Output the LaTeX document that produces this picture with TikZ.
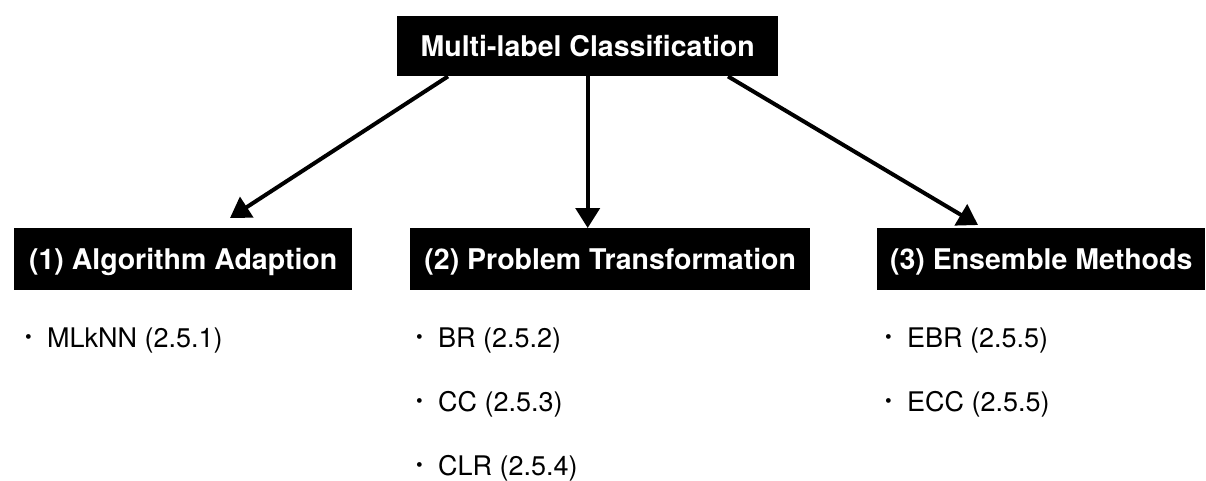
\documentclass[tikz,border=0pt]{standalone}
\usepackage{fontspec}
\setmainfont{TeX Gyre Heros}
\usetikzlibrary{arrows.meta,calc}

% small raised bullet used in front of each method
\newcommand\methodbul{\makebox[22pt][l]{\fontsize{19}{19}\selectfont\raisebox{4pt}{•}}}

\tikzset{
  header/.style={fill=black, text=white, inner sep=0pt, anchor=north west,
    font=\fontsize{28.5}{30}\selectfont\bfseries,
    text height=20.5pt, text depth=0pt, minimum height=62pt},
  method/.style={anchor=base west, inner sep=0pt,
    font=\fontsize{27}{30}\selectfont},
  link/.style={line width=4pt, -{Triangle[length=20pt,width=24pt]}}
}

\begin{document}
\begin{tikzpicture}[x=1pt,y=-1pt]
  \useasboundingbox (0,0) rectangle (1206,480);

  % root and the three families
  \node[header, minimum width=381pt, minimum height=60pt] (root) at (397,16) {Multi-label Classification};
  \node[header, minimum width=338pt] (alg) at (14,228) {(1) Algorithm Adaption};
  \node[header, minimum width=400pt] (prob) at (410,228) {(2) Problem Transformation};
  \node[header, minimum width=328pt] (ens) at (877,228) {(3) Ensemble Methods};

  % connectors
  \draw[link] ($(root.south west)+(51pt,0pt)$) -- ($(alg.north west)+(216pt,10pt)$);
  \draw[link] (root.south) -- (root.south |- prob.north);
  \draw[link] ($(root.south west)+(331pt,0pt)$) -- ($(ens.north west)+(101pt,3pt)$);

  % methods under each family
  \node[method] (mlknn) at (25,347) {\methodbul MLkNN (2.5.1)};
  \node[method] (br)  at (416,347) {\methodbul BR (2.5.2)};
  \node[method] (cc)  at (416,411) {\methodbul CC (2.5.3)};
  \node[method] (clr) at (416,475) {\methodbul CLR (2.5.4)};
  \node[method] (ebr) at (885,347) {\methodbul EBR (2.5.5)};
  \node[method] (ecc) at (885,411) {\methodbul ECC (2.5.5)};
\end{tikzpicture}
\end{document}
